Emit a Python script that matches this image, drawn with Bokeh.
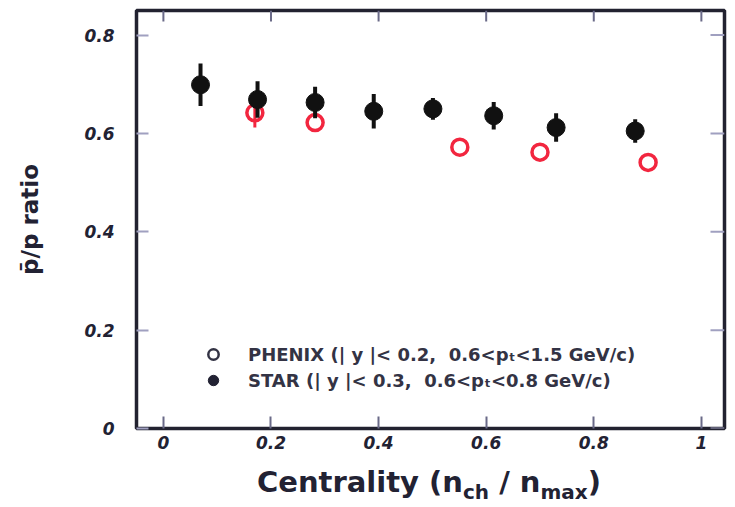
from bokeh.plotting import figure
from bokeh.models import (ColumnDataSource, Legend, LegendItem, FixedTicker, Range1d,
                          NumeralTickFormatter, Div)
from bokeh.layouts import column
from bokeh.embed import file_html
from bokeh.resources import INLINE

# ---------------- data ----------------
star_x = [0.069, 0.175, 0.282, 0.391, 0.501, 0.614, 0.730, 0.877]
star_y = [0.699, 0.669, 0.663, 0.645, 0.650, 0.636, 0.612, 0.605]
star_err = [0.043, 0.037, 0.032, 0.035, 0.022, 0.028, 0.029, 0.024]

phenix_x = [0.170, 0.282, 0.551, 0.700, 0.901]
phenix_y = [0.642, 0.622, 0.572, 0.562, 0.541]
phenix_err = [0.030, 0.0, 0.0, 0.0, 0.0]

x_ticks = [0, 0.2, 0.4, 0.6, 0.8, 1.0]
y_ticks = [0, 0.2, 0.4, 0.6, 0.8]

legend_labels = ["PHENIX (| y |< 0.2,  0.6<p\u209c<1.5 GeV/c)",
                 "STAR (| y |< 0.3,  0.6<p\u209c<0.8 GeV/c)"]
y_title = "p\u0304/p ratio"
x_title_parts = [("Centrality (n", False), ("ch", True), (" / n", False),
                 ("max", True), (")", False)]

# ---------------- styling ----------------
RED = "#f2263f"
BLACK = "#111111"
FRAME = "#222230"
TICK = "#6a6a88"
FONT = "DejaVu Sans"
X0, X1, Y0, Y1 = -0.05, 1.043, 0.0, 0.85
FRAME_W, FRAME_H = 735 - 136 - 11, 428 - 10

p = figure(width=735, height=470, output_backend="svg", toolbar_location=None,
           x_range=Range1d(X0, X1), y_range=Range1d(Y0, Y1),
           min_border_left=136, min_border_right=11, min_border_top=10,
           min_border_bottom=42, margin=0)
p.grid.visible = False
p.outline_line_color = FRAME
p.outline_line_width = 3.5
p.background_fill_color = "white"
p.border_fill_color = "white"

# ---- data marks ----
star = ColumnDataSource(dict(x=star_x, y=star_y,
                             lo=[a - b for a, b in zip(star_y, star_err)],
                             hi=[a + b for a, b in zip(star_y, star_err)]))
phen = ColumnDataSource(dict(x=phenix_x, y=phenix_y,
                             lo=[a - b for a, b in zip(phenix_y, phenix_err)],
                             hi=[a + b for a, b in zip(phenix_y, phenix_err)]))

p.segment(x0="x", y0="lo", x1="x", y1="hi", source=phen, line_color=RED, line_width=3)
p.scatter(x="x", y="y", source=phen, marker="circle", size=16, fill_color=None,
          line_color=RED, line_width=3.5)
p.segment(x0="x", y0="lo", x1="x", y1="hi", source=star, line_color=BLACK, line_width=4)
p.scatter(x="x", y="y", source=star, marker="circle", size=18, fill_color=BLACK,
          line_color=BLACK)

# ---- inward ticks on the top and right edges of the box ----
tick_dy = 11 * (Y1 - Y0) / FRAME_H
tick_dx = 14 * (X1 - X0) / FRAME_W
p.segment(x0=x_ticks, y0=[Y1] * len(x_ticks), x1=x_ticks, y1=[Y1 - tick_dy] * len(x_ticks),
          line_color=TICK, line_width=2)
p.segment(x0=[X1] * len(y_ticks), y0=y_ticks, x1=[X1 - tick_dx] * len(y_ticks), y1=y_ticks,
          line_color="#a0a0c0", line_width=2)

# ---- legend (black symbols, as in the reference) ----
nan = float("nan")
leg_open = p.scatter(x=[nan], y=[nan], marker="circle", size=12, fill_color=None,
                     line_color="#333344", line_width=2.5)
leg_fill = p.scatter(x=[nan], y=[nan], marker="circle", size=13, fill_color="#222233",
                     line_color="#222233")
legend = Legend(items=[LegendItem(label=legend_labels[0], renderers=[leg_open]),
                       LegendItem(label=legend_labels[1], renderers=[leg_fill])],
                location=(61, 35), orientation="vertical", padding=0, margin=0,
                spacing=0, glyph_width=32, glyph_height=26, label_height=26,
                label_standoff=19, border_line_color=None, background_fill_alpha=0,
                label_text_font=FONT, label_text_font_style="bold",
                label_text_font_size="18px", label_text_color="#333344")
p.add_layout(legend)

# ---- axes ----
for ax, ticks in ((p.xaxis[0], x_ticks), (p.yaxis[0], y_ticks)):
    ax.ticker = FixedTicker(ticks=ticks)
    ax.axis_line_color = None
    ax.major_tick_in = 12
    ax.major_tick_out = 0
    ax.minor_tick_in = 0
    ax.minor_tick_out = 0
    ax.major_tick_line_color = TICK
    ax.major_tick_line_width = 2
    ax.formatter = NumeralTickFormatter(format="0.[0]")
    ax.major_label_text_font = FONT
    ax.major_label_text_font_style = "bold italic"
    ax.major_label_text_font_size = "17px"
    ax.major_label_text_color = "#222233"

xa, ya = p.xaxis[0], p.yaxis[0]
xa.major_label_standoff = 7
ya.major_label_standoff = 22
ya.major_tick_line_color = "#a0a0c0"
ya.axis_label = y_title
ya.axis_label_text_font = FONT
ya.axis_label_text_font_style = "bold"
ya.axis_label_text_font_size = "23px"
ya.axis_label_text_color = "#222233"
ya.axis_label_standoff = 38

# ---- x title (HTML text so that subscripts are real text) ----
pieces = []
for txt, sub in x_title_parts:
    if sub:
        pieces.append(f'<span style="font-size:20px;vertical-align:-7px">{txt}</span>')
    else:
        pieces.append(txt.replace(" ", "&nbsp;"))
title_html = ('<div style="font-family:\'DejaVu Sans\';font-weight:bold;font-size:29px;'
              'line-height:29px;color:#222233;white-space:nowrap;padding-left:257px;'
              'margin-top:-2px">' + "".join(pieces) + '</div>')
xtitle = Div(text=title_html, width=735, height=37, margin=0)

layout = column(p, xtitle, spacing=0, margin=0)
open("out.html", "w").write(file_html(layout, INLINE))
